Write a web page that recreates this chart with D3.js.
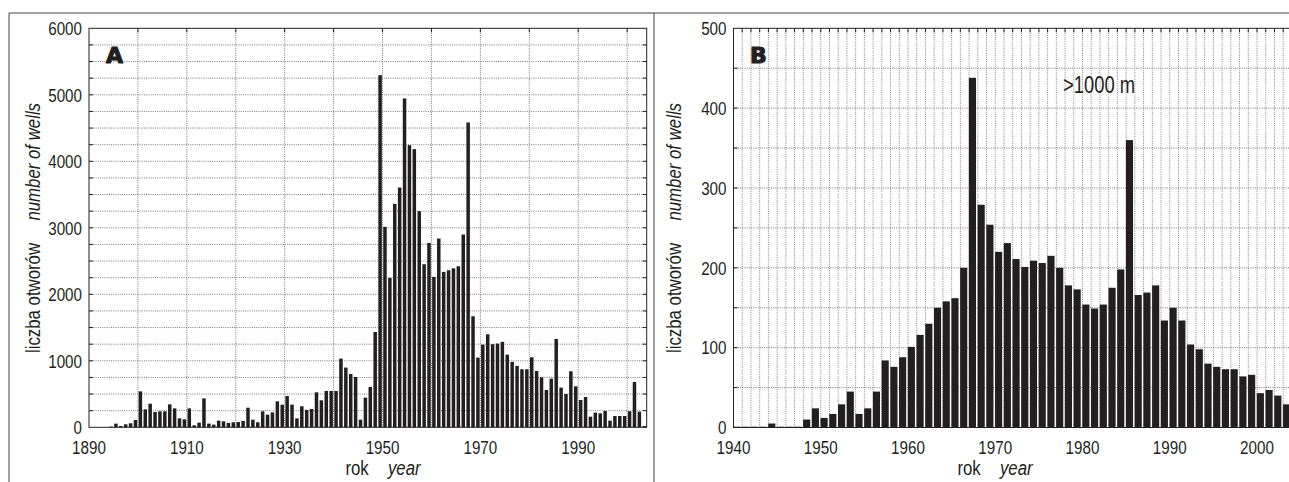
<!DOCTYPE html>
<html>
<head>
<meta charset="utf-8">
<script src="https://cdn.jsdelivr.net/npm/d3@7"></script>
<style>
  body { margin: 0; background: #fff; }
  text { fill: #231f20; }
</style>
</head>
<body>
<script>
// panel A: all wells, one bar per year
const yearsA = d3.range(1894, 2004);
const valuesA = [10, 55, 20, 45, 60, 110, 540, 270, 355, 230, 240, 240, 345, 285, 135, 120,
  285, 30, 70, 435, 55, 40, 100, 90, 65, 75,
  80, 95, 295, 115, 75, 240, 190, 225, 390, 340,
  470, 341, 135, 316, 261, 276, 526, 406, 547, 547,
  547, 1033, 898, 802, 757, 115, 446, 607, 1434, 5296,
  3014, 2247, 3360, 3606, 4945, 4243, 4183, 3250, 2452, 2773,
  2262, 2839, 2337, 2362, 2390, 2422, 2899, 4584, 1670, 1048,
  1244, 1399, 1249, 1259, 1284, 1093, 983, 923, 873, 873,
  1053, 848, 752, 562, 732, 1329, 597, 501, 842, 617,
  411, 456, 160, 221, 210, 246, 100, 170, 170, 170,
  241, 682, 236, 20];
const yTicksA = [0, 1000, 2000, 3000, 4000, 5000, 6000];
const xTicksA = [1890, 1910, 1930, 1950, 1970, 1990];

// panel B: wells deeper than 1000 m
const yearsB = d3.range(1940, 2004);
const valuesB = [1, 1, 1, 1, 5, 1, 1, 1, 10, 24, 12, 17, 29, 45, 17, 24, 45, 84, 76, 88,
  101, 116, 130, 150, 158, 162, 200, 438, 279, 254, 220, 231, 211, 201, 209, 206, 215, 200, 178, 173,
  154, 149, 154, 175, 198, 360, 166, 169, 178, 134, 150, 134, 104, 98, 80, 76, 73, 73, 64, 66,
  43, 47, 40, 29];
const yTicksB = [0, 100, 200, 300, 400, 500];
const xTicksB = [1940, 1950, 1960, 1970, 1980, 1990, 2000];

const W = 1289, H = 482;
const FONT = "'Liberation Sans', Arial, sans-serif";
const NARROW = 0.8;   // condensed look of the original type
const INK = "#231f20";

const svg = d3.select("body").append("svg")
  .attr("width", W)
  .attr("height", H)
  .style("font-family", FONT);

// outer frame of the figure
svg.append("path")
  .attr("d", "M9,482V13H1289M654,13V482")
  .attr("fill", "none")
  .attr("stroke", "#444")
  .attr("stroke-width", 1);

// condensed text: squeeze along the writing direction
function label(parent, x, y, size, anchor, rotate = 0) {
  return parent.append("g")
    .attr("transform", `translate(${x},${y}) rotate(${rotate}) scale(${NARROW},1)`)
    .append("text")
    .attr("text-anchor", anchor)
    .attr("font-size", size);
}

function panel(cfg) {
  const { x, y, years, values, gridX, gridY, barPad, barShift } = cfg;
  const [x0, x1] = x.range();
  const [y0, y1] = y.range();
  const g = svg.append("g");

  // dotted grid
  g.append("g").selectAll("line")
    .data(gridX)
    .join("line")
    .attr("x1", d => x(d)).attr("x2", d => x(d))
    .attr("y1", y1).attr("y2", y0)
    .attr("stroke", cfg.gridColorX)
    .attr("stroke-dasharray", "1,1.2");

  g.append("g").selectAll("line")
    .data(gridY)
    .join("line")
    .attr("x1", x0).attr("x2", Math.min(x1, W))
    .attr("y1", d => y(d)).attr("y2", d => y(d))
    .attr("stroke", cfg.gridColorY)
    .attr("stroke-dasharray", "1,1.2");

  // bars
  const step = x(years[0] + 1) - x(years[0]);
  g.append("g").selectAll("rect")
    .data(years.map((yr, i) => ({ yr, v: values[i] })))
    .join("rect")
    .attr("x", d => x(d.yr) + barPad + barShift)
    .attr("width", step - 2 * barPad)
    .attr("y", d => y(d.v))
    .attr("height", d => y(0) - y(d.v))
    .attr("fill", INK);

  // plot frame
  g.append("rect")
    .attr("x", x0).attr("y", y1)
    .attr("width", x1 - x0).attr("height", y0 - y1)
    .attr("fill", "none")
    .attr("stroke", "#222")
    .attr("stroke-width", 1);

  // inward ticks
  const tick = g.append("g").attr("stroke", "#222");
  gridY.forEach(v => {
    tick.append("line").attr("x1", x0).attr("x2", x0 + 4).attr("y1", y(v)).attr("y2", y(v));
    if (x1 <= W) tick.append("line").attr("x1", x1 - 4).attr("x2", x1).attr("y1", y(v)).attr("y2", y(v));
  });
  cfg.topTicks.forEach(t => {
    tick.append("line").attr("x1", x(t)).attr("x2", x(t)).attr("y1", y1).attr("y2", y1 + 4);
  });

  // tick labels
  cfg.yTicks.forEach(v => label(g, x0 - 7, y(v) + 6.8, 19, "end").text(v));
  cfg.xTicks.forEach(t => label(g, x(t), 454, 19, "middle").text(t));

  // axis titles
  const xt = label(g, cfg.xTitleX, 475, 21, "middle");
  xt.append("tspan").text("rok");
  xt.append("tspan").attr("dx", 24).attr("font-style", "italic").text("year");

  const yt = label(g, cfg.yTitleX, 228, 21, "middle", -90);
  yt.append("tspan").text("liczba otworów");
  yt.append("tspan").attr("dx", 28).attr("font-style", "italic").text("number of wells");

  // panel letter
  g.append("text")
    .attr("x", cfg.letterX)
    .attr("y", 63)
    .attr("font-family", "'DejaVu Sans', sans-serif")
    .attr("font-weight", "bold")
    .attr("font-size", 22)
    .attr("stroke", INK)
    .attr("stroke-width", 1.1)
    .attr("stroke-linejoin", "round")
    .text(cfg.letter);

  return g;
}

const xA = d3.scaleLinear().domain([1890, 2004]).range([89, 646.7]);
const yA = d3.scaleLinear().domain([0, 6000]).range([427.3, 28.3]);
panel({
  x: xA, y: yA, years: yearsA, values: valuesA,
  gridX: d3.range(1900, 2004, 10),
  gridY: d3.range(250, 6000, 250),
  topTicks: d3.range(1900, 2004, 10),
  gridColorX: "#7a7a7a", gridColorY: "#7a7a7a",
  xTicks: xTicksA, yTicks: yTicksA,
  barPad: 0.7, barShift: 0,
  xTitleX: 383, yTitleX: 40,
  letter: "A", letterX: 106
});

const xB = d3.scaleLinear().domain([1940, 2005]).range([733.5, 733.5 + 65 * 8.725]);
const yB = d3.scaleLinear().domain([0, 500]).range([427.5, 28.3]);
const gB = panel({
  x: xB, y: yB, years: yearsB, values: valuesB,
  gridX: d3.range(1941, 2005),
  gridY: d3.range(50, 500, 50),
  topTicks: d3.range(1941, 2005),
  gridColorX: "#858585", gridColorY: "#7a7a7a",
  xTicks: xTicksB, yTicks: yTicksB,
  barPad: 0.8, barShift: -1,
  xTitleX: 995, yTitleX: 681,
  letter: "B", letterX: 750
});

label(gB, 1063, 93, 23, "start").text(">1000 m");
</script>
</body>
</html>
